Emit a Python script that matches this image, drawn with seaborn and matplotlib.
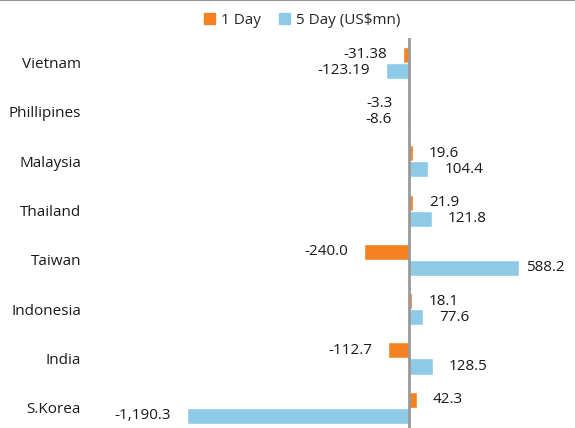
import pandas as pd
import matplotlib
matplotlib.use("Agg")
import matplotlib.pyplot as plt
from matplotlib.patches import Patch
from matplotlib.lines import Line2D
import seaborn as sns

# data
countries = ['Vietnam', 'Phillipines', 'Malaysia', 'Thailand', 'Taiwan', 'Indonesia', 'India', 'S.Korea']
one_day = [-31.38, -3.3, 19.6, 21.9, -240.0, 18.1, -112.7, 42.3]
five_day = [-123.19, -8.6, 104.4, 121.8, 588.2, 77.6, 128.5, -1190.3]
decimals = [2, 1, 1, 1, 1, 1, 1, 1]
series = ['1 Day', '5 Day (US$mn)']
colors = ['#F58220', '#8FC9E8']

sns.set_theme(style="white")
plt.rcParams['font.family'] = ['Open Sans', 'DejaVu Sans']

df = pd.DataFrame({
    'country': countries * 2,
    'value': one_day + five_day,
    'series': [series[0]] * len(countries) + [series[1]] * len(countries),
})

fig = plt.figure(figsize=(5.75, 4.28), dpi=100)
ax = fig.add_axes([92 / 575, 0, 483 / 575, 390 / 428])

sns.barplot(data=df, y='country', x='value', hue='series', palette=colors,
            orient='h', width=0.65, legend=False, ax=ax, saturation=1)

ax.set_xlim(-1700, 890)
ax.set_ylim(7.41, -0.5)
ax.axvline(0, color='#999999', lw=2, zorder=5)

for cont in ax.containers:
    vals = cont.datavalues
    for i, (p, v) in enumerate(zip(cont.patches, vals)):
        txt = f"{v:,.{decimals[i]}f}"
        end = p.get_x() + p.get_width()
        pad = 11.5 if v < 500 else 5
        dx = pad if v >= 0 else -pad
        ax.annotate(txt, (end, p.get_y() + p.get_height() / 2),
                    xytext=(dx, 0), textcoords='offset points',
                    ha='left' if v >= 0 else 'right', va='center',
                    fontsize=11, color='#1a1a1a')

ax.set_xlabel('')
ax.set_ylabel('')
ax.set_xticks([])
ax.tick_params(axis='y', length=0, pad=8, labelsize=11, labelcolor='#1a1a1a')
sns.despine(ax=ax, left=True, bottom=True)

handles = [Patch(color=c, label=s) for c, s in zip(colors, series)]
fig.legend(handles=handles, loc='center', bbox_to_anchor=(302 / 575, 1 - 20 / 428),
           ncol=2, frameon=False, fontsize=11, handlelength=0.7, handleheight=0.7,
           handletextpad=0.4, columnspacing=1.2)

fig.add_artist(Line2D([0, 1], [0.999, 0.999], color='#808080', lw=1.2,
                      transform=fig.transFigure))

fig.savefig('out.png', dpi=100)
